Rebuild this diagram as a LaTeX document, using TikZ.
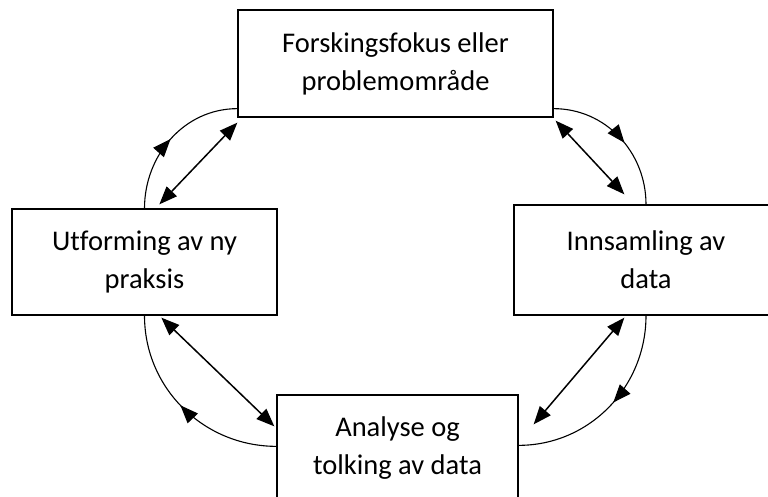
\documentclass[tikz,border=0pt]{standalone}
\usepackage{fontspec}
\setmainfont[Ligatures=NoCommon]{Carlito}
\usetikzlibrary{arrows.meta,decorations.markings}

\tikzset{
  boks/.style={draw,line width=1.3pt,inner sep=0pt,align=center,
    font=\fontsize{28.5}{38}\selectfont},
  spiss/.style={Triangle[length=18pt,width=14pt]},
  pil/.style={line width=1.5pt,{Triangle[length=18pt,width=14pt]}-{Triangle[length=18pt,width=14pt]}},
  bue/.style={line width=1.1pt,postaction={decorate},
    decoration={markings,mark=at position #1 with {\arrow{Triangle[length=18pt,width=14pt]}}}}
}

\begin{document}
\begin{tikzpicture}[x=1pt,y=-1pt]
        \useasboundingbox (0,0) rectangle (768,497);
        \node[boks,minimum width=315pt,minimum height=107pt] (fokus) at (395.5,63.5)
          {Forskingsfokus eller\\problemområde};
        \node[boks,minimum width=265pt,minimum height=106pt] (praksis) at (144.5,262)
          {Utforming av ny\\praksis};
        \node[boks,minimum width=264pt,minimum height=110pt] (data) at (646,260)
          {Innsamling av\\data};
        \node[boks,minimum width=241pt,minimum height=106pt] (analyse) at (397.5,448)
          {Analyse og\\tolking av data};
        % buene rundt
        \draw[bue=0.5] (praksis.north) to[out=90,in=180] ([shift={(0,-9)}]fokus.south west);
        \draw[bue=0.55] ([shift={(0,-9)}]fokus.south east) to[out=0,in=90] (data.north);
        \draw[bue=0.47] (data.south) to[out=-90,in=0] ([shift={(0,51)}]analyse.north east);
        \draw[bue=0.52] ([shift={(0,52)}]analyse.north west) to[out=180,in=-90] (praksis.south);
        % rette piler
        \draw[pil] ([shift={(148,-4)}]praksis.north west) -- ([shift={(0,5)}]fokus.south west);
        \draw[pil] ([shift={(2,3)}]fokus.south east) -- ([shift={(111,-10)}]data.north west);
        \draw[pil] ([shift={(111,2)}]data.south west) -- ([shift={(15,30)}]analyse.north east);
        \draw[pil] ([shift={(150,2)}]praksis.south west) -- ([shift={(-2,32)}]analyse.north west);
      \end{tikzpicture}
\end{document}
